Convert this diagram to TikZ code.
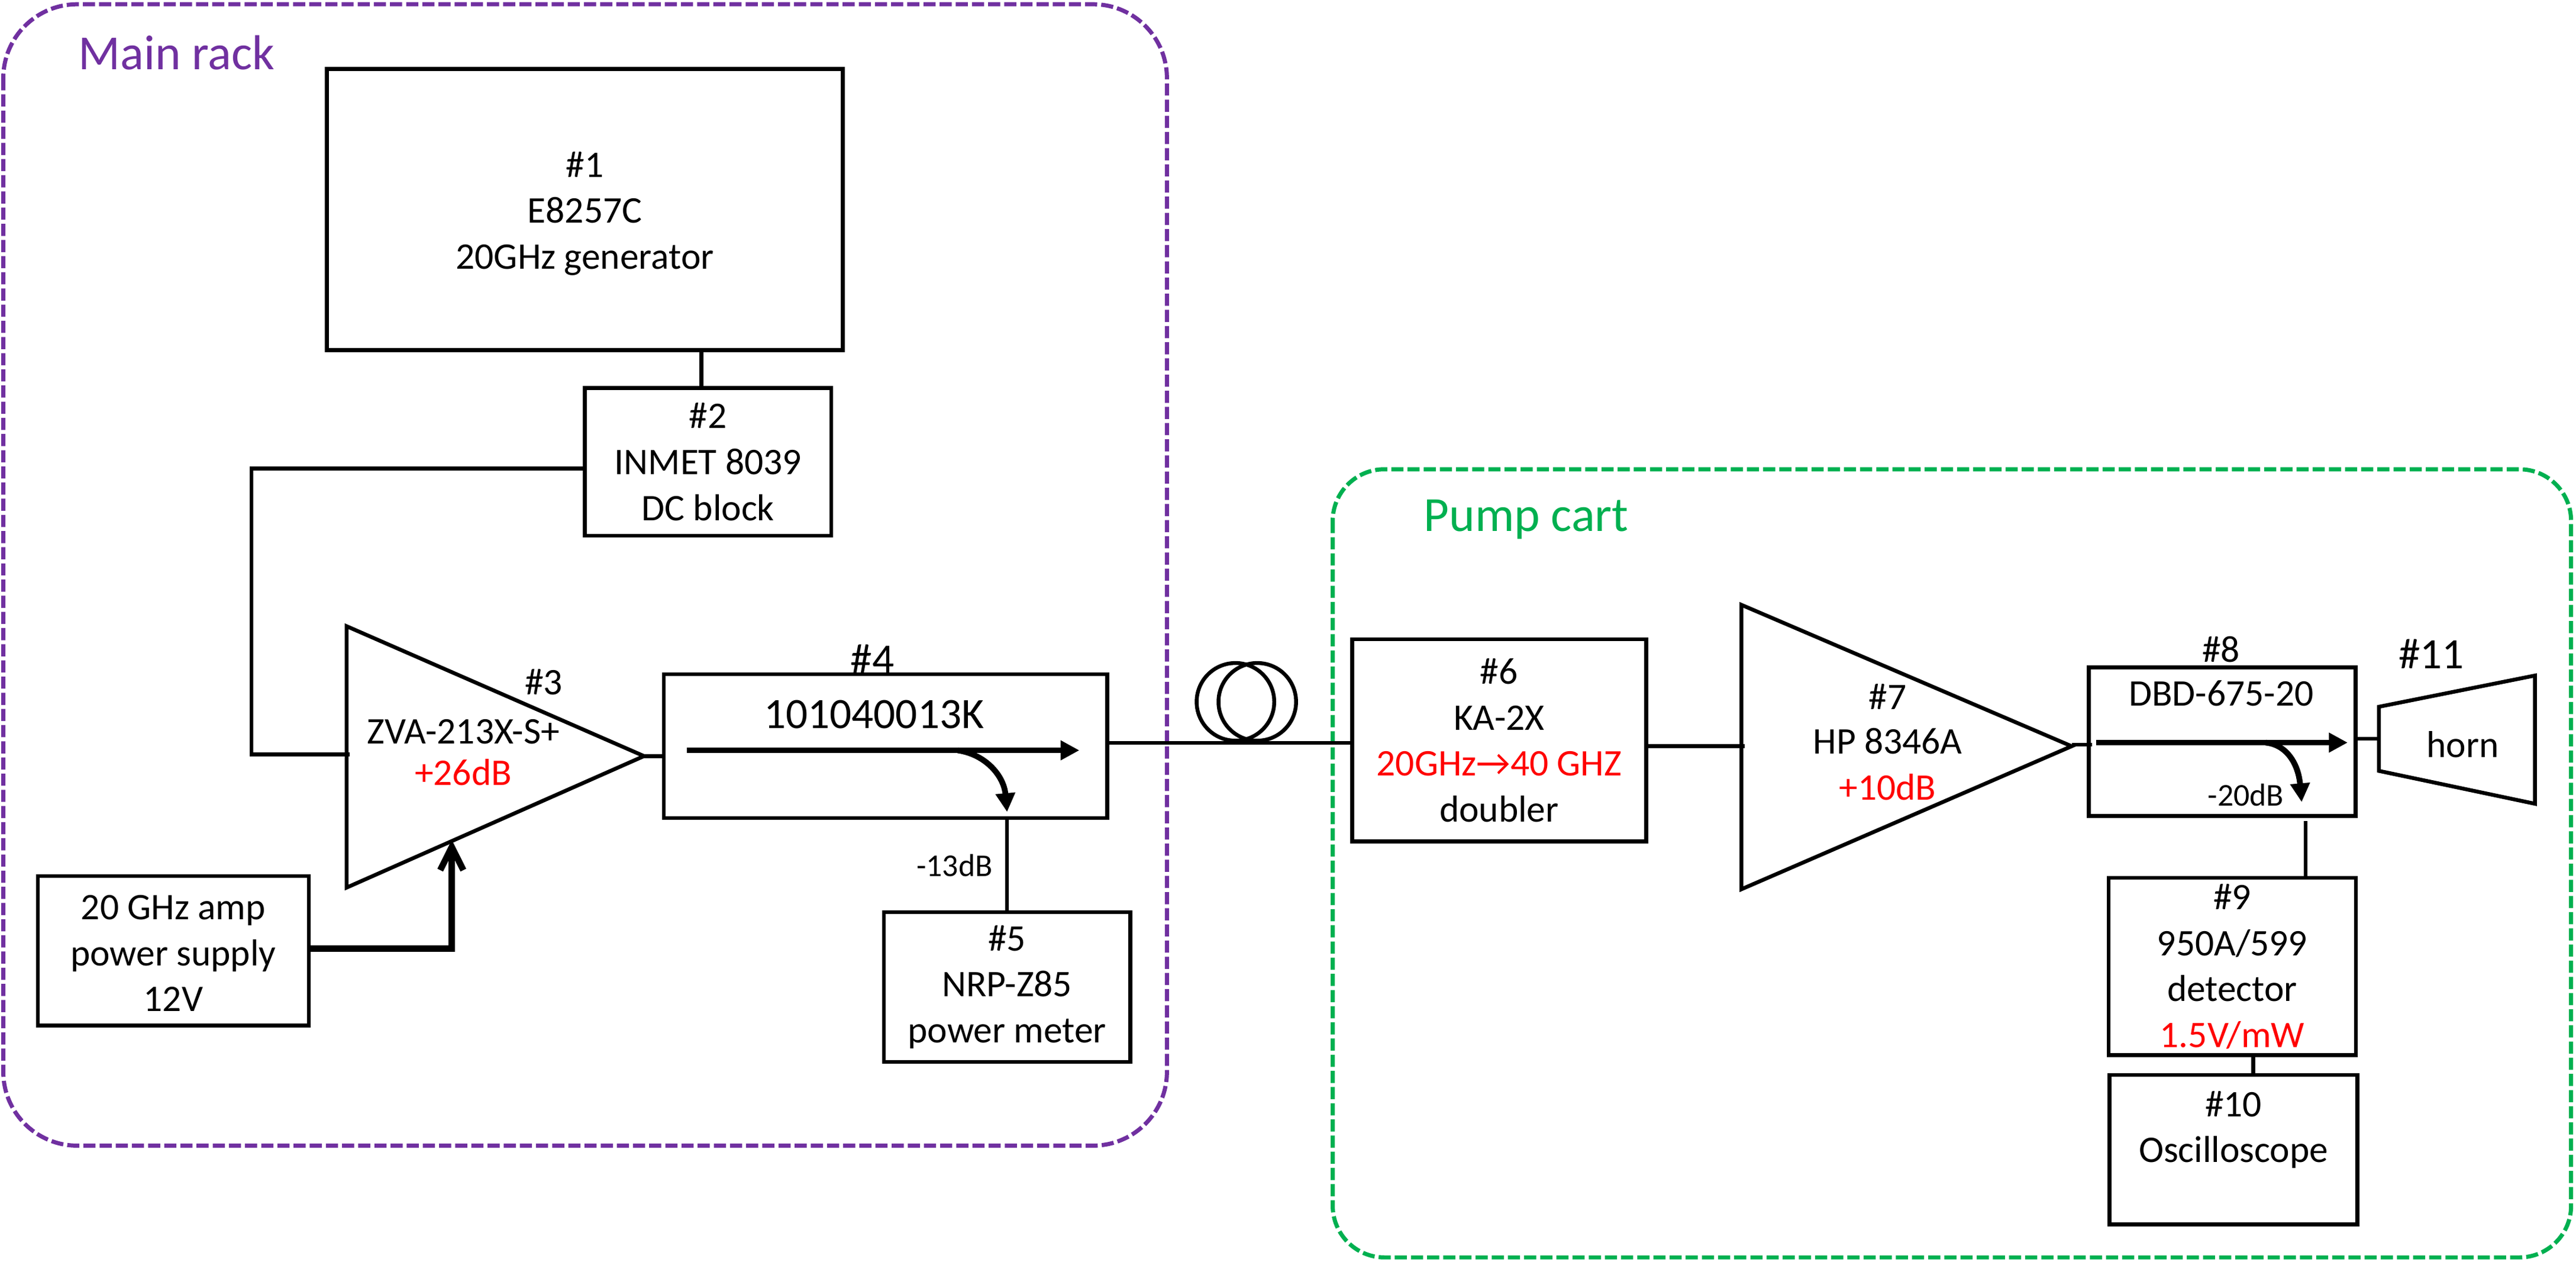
\documentclass[tikz,border=0pt]{standalone}
\usepackage{fontspec}
\setmainfont{Carlito}
\usetikzlibrary{arrows.meta,positioning}
\definecolor{rackpurple}{HTML}{7030A0}
\definecolor{cartgreen}{HTML}{00B050}
\definecolor{gainred}{HTML}{FF0000}
\tikzset{
  box/.style={draw,line width=1.33pt,align=center,inner sep=0pt,font=\fontsize{13}{15.9}\selectfont},
  lbl/.style={inner sep=0pt,align=center,font=\fontsize{13}{15.9}\selectfont},
  small/.style={lbl,font=\fontsize{11}{12}\selectfont},
  big/.style={lbl,font=\fontsize{15}{17}\selectfont},
  wire/.style={line width=1.33pt},
  flow/.style={line width=2pt,-{Triangle[length=6.5pt,width=6.5pt]}},
  rack/.style={draw=#1,dash pattern=on 4.2pt off 1.4pt,line width=1.43pt},
}
\begin{document}
\begin{tikzpicture}[x=0.02cm,y=-0.02cm]
\useasboundingbox (0,0) rectangle (1568,767.5);
% enclosures
\draw[rack=rackpurple,rounded corners=0.9cm] (2,2.6) rectangle (710.3,697);
\draw[rack=cartgreen,rounded corners=0.63cm] (811.2,285.5) rectangle (1565,765);
\node[lbl,text=rackpurple,font=\fontsize{17}{20}\selectfont] (mainlabel) at (107.5,32) {Main rack};
\node[lbl,text=cartgreen,font=\fontsize{17}{20}\selectfont] (cartlabel) at (929,316) {Pump cart};
% main rack
\node[box,minimum width=6.28cm,minimum height=3.42cm] (gen) at (356,127.5) {};
\node[lbl] (gentext) at (356,130) {\#1\\E8257C\\20GHz generator};
\node[box,minimum width=3cm,minimum height=1.8cm] (dcblock) at (431,281) {\#2\\INMET 8039\\DC block};
\draw[wire] (211,381) coordinate (ampa) -- (392,460) coordinate (ampout) -- (211,540) coordinate (ampb) -- cycle;
\coordinate (ampin) at (213,459);
\coordinate (amppow) at (275,511);
\node[lbl] (ampnum) at (331,415) {\#3};
\node[lbl] (ampname) at (282,445) {ZVA-213X-S+};
\node[lbl,text=gainred] (ampgain) at (282,470) {+26dB};
\node[box,minimum width=5.4cm,minimum height=1.75cm] (coupler) at (539,454) {};
\node[big] (couplernum) at (531,401) {\#4};
\node[big] (couplername) at (532,434.5) {101040013K};
\node[box,minimum width=3.3cm,minimum height=1.82cm] (supply) at (105.5,578.5) {};
\node[lbl] (supplytext) at (105.5,580) {20 GHz amp\\power supply\\12V};
\node[box,minimum width=3cm,minimum height=1.82cm] (meter) at (613,600.5) {\#5\\NRP-Z85\\power meter};
\node[small] (couplerdb) at (581,526.5) {-13dB};
\draw[flow] (418,456.5) -- (657,456.5);
\draw[flow] (583,456.5) .. controls (600,459) and (611,472) .. (613,494);
\draw[wire] ([xshift=-0.08cm]dcblock.north) -- ([xshift=-0.08cm]dcblock.north |- gen.south);
\draw[wire] ([yshift=-0.08cm]dcblock.west) -| (153,459) -- (ampin);
\draw[wire] (ampout) -- (ampout -| coupler.west);
\draw[line width=2.2pt,-{Straight Barb[length=8pt,width=8pt]}] (supply.east |- 0,577) -| (amppow);
\draw[wire] (coupler.south -| meter.north) -- (meter.north);
% fibre
\node[draw,wire,circle,minimum size=0.945cm,inner sep=0pt] (coila) at (752,427) {};
\node[draw,wire,circle,minimum size=0.945cm,inner sep=0pt] (coilb) at (765.3,427) {};
% pump cart
\node[box,minimum width=3.58cm,minimum height=2.46cm] (doubler) at (912.5,450.5) {\#6\\KA-2X\\{\color{gainred}20GHz→40 GHZ}\\doubler};
\draw[wire] (1060,368) -- (1261,454) coordinate (pumpout) -- (1060,541) -- cycle;
\coordinate (pumpin) at (1062,454);
\node[lbl] (pumpnum) at (1149,424) {\#7};
\node[lbl] (pumpname) at (1149,451) {HP 8346A};
\node[lbl,text=gainred] (pumpgain) at (1149,479) {+10dB};
\node[box,minimum width=3.25cm,minimum height=1.81cm] (dircoup) at (1352.6,451.2) {};
\node[lbl] (dircoupnum) at (1352,395) {\#8};
\node[lbl] (dircoupname) at (1352,422) {DBD-675-20};
\node[small] (dircoupdb) at (1367,483.5) {-20dB};
\draw[flow] (1276,451.8) -- (1429,451.8);
\draw[flow] (1379,451.8) .. controls (1392,453) and (1399,465) .. (1401,488);
\node[box,minimum width=3.01cm,minimum height=2.16cm] (detector) at (1358.75,588) {\#9\\950A/599\\detector\\{\color{gainred}1.5V/mW}};
\node[box,minimum width=3.02cm,minimum height=1.82cm] (scope) at (1359.5,699.5) {\#10\\Oscilloscope\\\mbox{}};
\draw[wire] (1448,430) coordinate (hornin) -- (1543,411) -- (1543,489) -- (1448,469) -- cycle;
\node[lbl] (hornname) at (1499,453) {horn};
\node[big] (hornnum) at (1480,398) {\#11};
% connections
\draw[wire] (coupler.east |- 0,452) -- (doubler.west |- 0,452);
\draw[wire] (doubler.east |- pumpin) -- (pumpin);
\draw[wire] (pumpout |- 0,453) -- (1273.4,453);
\draw[wire] (dircoup.east |- 0,449.5) -- (1448,449.5);
\draw[wire] ([yshift=-0.04cm]dircoup.south -| 1403.4,0) -- (detector.north -| 1403.4,0);
\draw[wire] (detector.south -| 1371.5,0) -- (scope.north -| 1371.5,0);
\end{tikzpicture}
\end{document}
